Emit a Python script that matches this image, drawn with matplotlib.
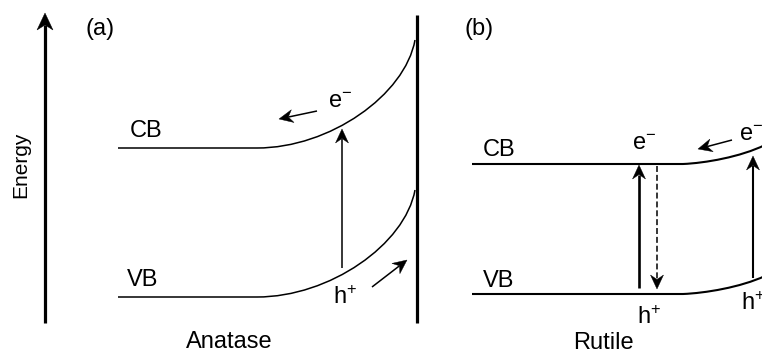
"""
Band bending sketch for anatase (a) and rutile (b).
Coordinates are in image pixels (origin top-left).
"""
import numpy as np
import matplotlib
matplotlib.use("Agg")
import matplotlib.pyplot as plt
from matplotlib.path import Path
from matplotlib.patches import PathPatch, Polygon

plt.rcParams['font.family'] = ['Liberation Sans', 'DejaVu Sans']
plt.rcParams['mathtext.fontset'] = 'custom'
plt.rcParams['mathtext.rm'] = 'Liberation Sans'
plt.rcParams['mathtext.it'] = 'Liberation Sans:italic'

# ---- data ----
band_names = ["CB", "VB"]

# anatase: bulk start x, bend start x, surface x
anatase_x = [118, 257, 415]
anatase_flat = [148, 297]      # band level in the bulk
anatase_surface = [40, 190]    # band level at the surface

# rutile: the bend runs off the right edge
rutile_x = [472, 683, 765]
rutile_flat = [164, 294]
rutile_surface = [145, 276]

panel_labels = ["(a)", "(b)"]
phase_names = ["Anatase", "Rutile"]


def band(ax, x0, xb, xs, yf, ys, c1, c2, lw):
    # flat part plus a cubic bend up to the surface
    rise = yf - ys
    span = xs - xb
    verts = [(x0, yf), (xb, yf),
             (xb + c1[0] * span, yf - c1[1] * rise),
             (xs - c2[0] * span, yf - c2[1] * rise),
             (xs, ys)]
    codes = [Path.MOVETO, Path.LINETO, Path.CURVE4, Path.CURVE4, Path.CURVE4]
    ax.add_patch(PathPatch(Path(verts, codes), fill=False, lw=lw, color='black',
                           capstyle='butt'))


def arrow(ax, a, b, lw=1.1, L=14, W=6.5, notch=4.5, dashes=None):
    # line with a filled "stealth" head
    a = np.asarray(a, float)
    b = np.asarray(b, float)
    u = (b - a) / np.hypot(*(b - a))
    p = np.array([-u[1], u[0]])
    back = b - (L - notch) * u
    kw = dict(color='black', lw=lw, solid_capstyle='butt')
    if dashes is not None:
        kw['dashes'] = dashes
    ax.plot([a[0], back[0]], [a[1], back[1]], **kw)
    head = [b, b - L * u + W * p, back, b - L * u - W * p]
    ax.add_patch(Polygon(head, closed=True, color='black', lw=0.3))


fig = plt.figure(figsize=(7.62, 3.54), dpi=100)
ax = fig.add_axes([0, 0, 1, 1])
ax.set_xlim(0, 762)
ax.set_ylim(354, 0)
ax.axis('off')

FS = 17

# ---- panel (a): anatase ----
arrow(ax, (45, 323), (45, 13), lw=2.3, L=17, W=8, notch=5)
ax.text(21, 165, "Energy", rotation=90, ha='center', va='center', fontsize=15)
ax.plot([417, 417], [15, 323], color='black', lw=2.3, solid_capstyle='butt')

for name, yf, ys in zip(band_names, anatase_flat, anatase_surface):
    band(ax, anatase_x[0], anatase_x[1], anatase_x[2], yf, ys,
         (0.46, 0.0), (0.063, 0.49), 1.1)
ax.text(146, 131, "CB", ha='center', va='center', fontsize=FS)
ax.text(143, 280, "VB", ha='center', va='center', fontsize=FS)

arrow(ax, (342, 268), (342, 129))
arrow(ax, (317, 111), (279, 119))
arrow(ax, (372, 287), (407, 260))
ax.text(340, 102, r"e$^{-}$", ha='center', va='center', fontsize=FS)
ax.text(345, 298, r"h$^{+}$", ha='center', va='center', fontsize=FS)

ax.text(100, 29, panel_labels[0], ha='center', va='center', fontsize=FS)
ax.text(229, 342, phase_names[0], ha='center', va='center', fontsize=FS)

# ---- panel (b): rutile ----
for name, yf, ys in zip(band_names, rutile_flat, rutile_surface):
    band(ax, rutile_x[0], rutile_x[1], rutile_x[2], yf, ys,
         (0.27, 0.05), (0.3, 0.37), 1.5)
ax.text(499, 150, "CB", ha='center', va='center', fontsize=FS)
ax.text(499, 281, "VB", ha='center', va='center', fontsize=FS)

arrow(ax, (639, 288), (639, 165), lw=1.9)
arrow(ax, (657, 166), (657, 289), lw=1.1, dashes=(3.9, 1.9))
arrow(ax, (753, 278), (753, 156), lw=1.5)
arrow(ax, (732, 140), (698, 149))

ax.text(644, 144, r"e$^{-}$", ha='center', va='center', fontsize=FS)
ax.text(649, 318, r"h$^{+}$", ha='center', va='center', fontsize=FS)
ax.text(751, 135, r"e$^{-}$", ha='center', va='center', fontsize=FS)
ax.text(753, 304, r"h$^{+}$", ha='center', va='center', fontsize=FS)

ax.text(479, 29, panel_labels[1], ha='center', va='center', fontsize=FS)
ax.text(603, 343, phase_names[1], ha='center', va='center', fontsize=FS)

fig.savefig("out.png", dpi=100)
